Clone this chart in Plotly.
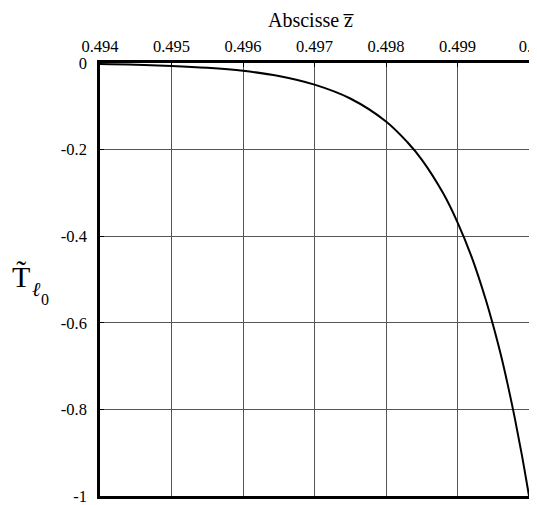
import plotly.graph_objects as go

z_vals = [0.494, 0.4945, 0.495, 0.4955, 0.496, 0.4965, 0.497, 0.4975, 0.498,
          0.4983, 0.4985, 0.4988, 0.499, 0.4992, 0.4994, 0.4995, 0.4996,
          0.4997, 0.4998, 0.4999, 0.5]
t_vals = [-0.0025, -0.004, -0.0067, -0.011, -0.018, -0.030, -0.050, -0.082,
          -0.135, -0.183, -0.223, -0.301, -0.368, -0.449, -0.549, -0.607,
          -0.670, -0.741, -0.819, -0.905, -1.0]

x_ticks = [0.494, 0.495, 0.496, 0.497, 0.498, 0.499, 0.5]
x_labels = ["0.494", "0.495", "0.496", "0.497", "0.498", "0.499", "0.5"]
y_ticks = [0, -0.2, -0.4, -0.6, -0.8, -1]
y_labels = ["0", "-0.2", "-0.4", "-0.6", "-0.8", "-1"]

font = "Liberation Serif"
tf = dict(family=font, size=16.5, color="black")

fig = go.Figure()
fig.add_trace(go.Scatter(x=z_vals, y=t_vals, mode="lines",
                         line=dict(color="black", width=2, shape="spline"),
                         showlegend=False))

# page body has an 8px default margin, so the figure is sized to fit inside it
fig.update_layout(
    width=529, height=497,
    margin=dict(l=92, r=8, t=55, b=9, autoexpand=False),
    paper_bgcolor="white", plot_bgcolor="white",
    font=dict(family=font, size=16.5, color="black"),
    xaxis=dict(side="top", range=[0.494, 0.5], tickvals=x_ticks, ticktext=x_labels,
               tickfont=tf, ticklabelstandoff=2, automargin=False,
               ticklabeloverflow="allow",
               showgrid=True, gridcolor="#555", gridwidth=1,
               showline=True, linecolor="black", linewidth=2.5, mirror=True,
               ticks="inside", ticklen=4, tickcolor="black", zeroline=False),
    yaxis=dict(range=[-1, 0], tickvals=y_ticks, ticktext=y_labels,
               tickfont=tf, ticklabelstandoff=7, automargin=False,
               ticklabeloverflow="allow",
               showgrid=True, gridcolor="#555", gridwidth=1,
               showline=True, linecolor="black", linewidth=2.5, mirror=True,
               ticks="inside", ticklen=4, tickcolor="black", zeroline=False),
)

# x-axis title
fig.add_annotation(x=0.5, y=1.0, xref="paper", yref="paper", yshift=43, xshift=-4,
                   text="Abscisse z\u0305", showarrow=False,
                   font=dict(size=20, family=font), xanchor="center", yanchor="middle")

# y-axis label: T tilde with subscript l0
fig.add_annotation(x=0.0, y=0.508, xref="paper", yref="paper", xshift=-79,
                   text="T\u0303", showarrow=False,
                   font=dict(size=30, family=font), xanchor="center", yanchor="middle")
fig.add_annotation(x=0.0, y=0.478, xref="paper", yref="paper", xshift=-64,
                   text="<i>\u2113</i>", showarrow=False,
                   font=dict(size=20, family=font), xanchor="center", yanchor="middle")
fig.add_annotation(x=0.0, y=0.453, xref="paper", yref="paper", xshift=-55,
                   text="0", showarrow=False,
                   font=dict(size=16, family=font), xanchor="center", yanchor="middle")

fig.write_html("out.html")
